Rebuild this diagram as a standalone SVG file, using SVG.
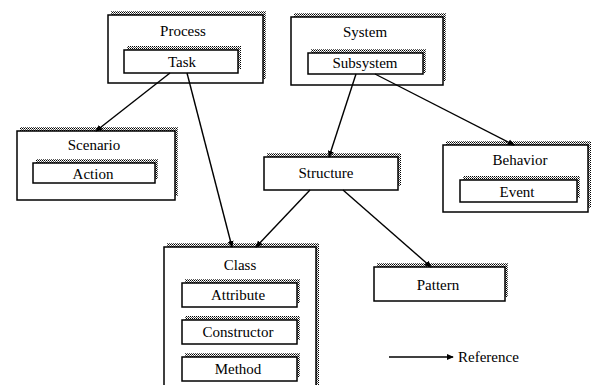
<svg xmlns="http://www.w3.org/2000/svg" width="599" height="385" viewBox="0 0 599 385">
<defs>
<pattern id="dots" width="2" height="2" patternUnits="userSpaceOnUse">
<rect width="2" height="2" fill="#fff"/>
<rect x="0" y="0" width="1" height="1" fill="#000"/>
<rect x="1" y="1" width="1" height="1" fill="#555"/>
</pattern>
<marker id="ah" viewBox="0 0 8 8" refX="7" refY="4" markerWidth="7" markerHeight="7" orient="auto" markerUnits="userSpaceOnUse">
<path d="M0,0.5 L8,4 L0,7.5 Z" fill="#000"/>
</marker>
</defs>
<style>
.sh{fill:url(#dots)}
.bx{fill:#fff;stroke:#000;stroke-width:1.5}
.t{font-family:"Liberation Serif","Times New Roman",serif;font-size:15px;fill:#000;text-anchor:middle}
.c{stroke:#000;stroke-width:1.4;fill:none;marker-end:url(#ah)}
</style>
<rect width="599" height="385" fill="#fff"/>

<g id="process">
<rect class="sh" x="111" y="11" width="155" height="68"/>
<rect class="bx" x="108" y="15" width="155" height="68"/>
<text class="t" x="183" y="36">Process</text>
<g id="task">
<rect class="sh" x="127" y="46" width="114" height="23"/>
<rect class="bx" x="124" y="50" width="114" height="23"/>
<text class="t" x="182" y="67">Task</text>
</g>
</g>

<g id="system">
<rect class="sh" x="294" y="13" width="152" height="68"/>
<rect class="bx" x="291" y="17" width="152" height="68"/>
<text class="t" x="365" y="37">System</text>
<g id="subsystem">
<rect class="sh" x="311" y="49" width="115" height="24"/>
<rect class="bx" x="308" y="53" width="115" height="21"/>
<text class="t" x="365" y="68">Subsystem</text>
</g>
</g>

<g id="scenario">
<rect class="sh" x="20" y="127" width="158" height="69"/>
<rect class="bx" x="17" y="131" width="158" height="69"/>
<text class="t" x="94" y="150">Scenario</text>
<g id="action">
<rect class="sh" x="36" y="159" width="122" height="20"/>
<rect class="bx" x="33" y="163" width="122" height="20"/>
<text class="t" x="93" y="179">Action</text>
</g>
</g>

<g id="behavior">
<rect class="sh" x="446" y="141" width="145" height="67"/>
<rect class="bx" x="443" y="145" width="145" height="67"/>
<text class="t" x="520" y="165">Behavior</text>
<g id="event">
<rect class="sh" x="463" y="176" width="117" height="22"/>
<rect class="bx" x="460" y="180" width="117" height="22"/>
<text class="t" x="517" y="197">Event</text>
</g>
</g>

<g id="structure">
<rect class="sh" x="267" y="153" width="134" height="33"/>
<rect class="bx" x="264" y="157" width="134" height="33"/>
<text class="t" x="326" y="178">Structure</text>
</g>

<g id="pattern">
<rect class="sh" x="377" y="263" width="131" height="34"/>
<rect class="bx" x="374" y="267" width="131" height="34"/>
<text class="t" x="438" y="290">Pattern</text>
</g>

<g id="class">
<rect class="sh" x="167" y="243" width="152" height="150"/>
<rect class="bx" x="164" y="247" width="152" height="150"/>
<text class="t" x="240" y="270">Class</text>
<g id="attribute">
<rect class="sh" x="185" y="279" width="115" height="24"/>
<rect class="bx" x="182" y="283" width="115" height="24"/>
<text class="t" x="238" y="300">Attribute</text>
</g>
<g id="constructor">
<rect class="sh" x="185" y="316" width="115" height="24"/>
<rect class="bx" x="182" y="320" width="115" height="24"/>
<text class="t" x="238" y="337">Constructor</text>
</g>
<g id="method">
<rect class="sh" x="185" y="353" width="115" height="24"/>
<rect class="bx" x="182" y="357" width="115" height="24"/>
<text class="t" x="238" y="374">Method</text>
</g>
</g>

<g id="connectors">
<line class="c" x1="170" y1="73" x2="96" y2="131"/>
<line class="c" x1="187" y1="73" x2="232" y2="247"/>
<line class="c" x1="356" y1="74" x2="329" y2="157"/>
<line class="c" x1="375" y1="74" x2="514" y2="145"/>
<line class="c" x1="310" y1="190" x2="256" y2="247"/>
<line class="c" x1="343" y1="190" x2="431" y2="267"/>
</g>

<g id="legend">
<line class="c" x1="389" y1="357" x2="453" y2="357"/>
<text class="t" x="458" y="362" style="text-anchor:start">Reference</text>
</g>
</svg>
